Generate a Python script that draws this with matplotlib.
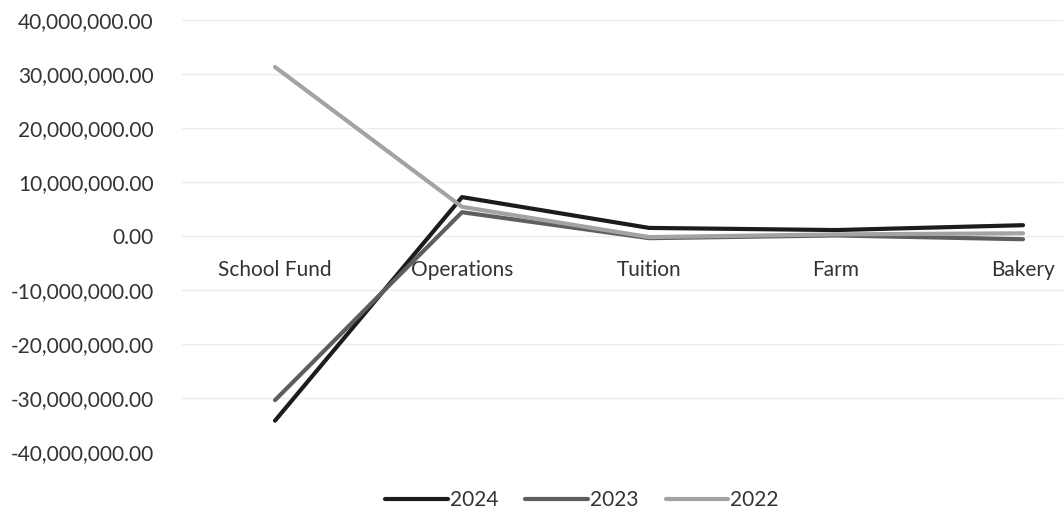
import matplotlib.pyplot as plt
from matplotlib.ticker import FuncFormatter

plt.rcParams['font.family'] = ['Lato', 'DejaVu Sans']

# fund balances by department
categories = ['School Fund', 'Operations', 'Tuition', 'Farm', 'Bakery']
years = ['2024', '2023', '2022']
values_2024 = [-34200000, 7200000, 1500000, 1100000, 2000000]
values_2023 = [-30400000, 4400000, -400000, 100000, -600000]
values_2022 = [31300000, 5400000, -200000, 300000, 500000]
colors = ['#1c1c1c', '#5e5e5e', '#a3a3a3']

fig = plt.figure(figsize=(10.63, 5.13), dpi=100)
ax = fig.add_axes([181.5 / 1063, 61 / 513, 935 / 1063, 432 / 513])

x = range(len(categories))
for vals, yr, c in zip([values_2024, values_2023, values_2022], years, colors):
    ax.plot(x, vals, color=c, lw=3, label=yr, solid_capstyle='round')

ax.set_xlim(-0.5, 4.5)
ax.set_ylim(-40000000, 40000000)
ax.set_yticks(range(-40000000, 40000001, 10000000))
ax.yaxis.set_major_formatter(FuncFormatter(lambda v, p: f'{v:,.2f}'))
ax.grid(axis='y', color='#ececec', lw=1)
ax.set_axisbelow(True)

for s in ['top', 'right', 'left']:
    ax.spines[s].set_visible(False)
ax.spines['bottom'].set_position(('data', 0))
ax.spines['bottom'].set_visible(False)

ax.set_xticks(list(x))
ax.set_xticklabels(categories)
ax.tick_params(axis='x', length=0, pad=17, labelsize=15, colors='#333333')
ax.tick_params(axis='y', length=0, pad=20, labelsize=15, colors='#333333')

fig.legend(loc='center', bbox_to_anchor=(582 / 1063, 13 / 513), ncol=3,
           frameon=False, fontsize=15, handlelength=3.0, columnspacing=1.3,
           handletextpad=0.1, labelcolor='#333333')

fig.savefig('out.png', dpi=100)
